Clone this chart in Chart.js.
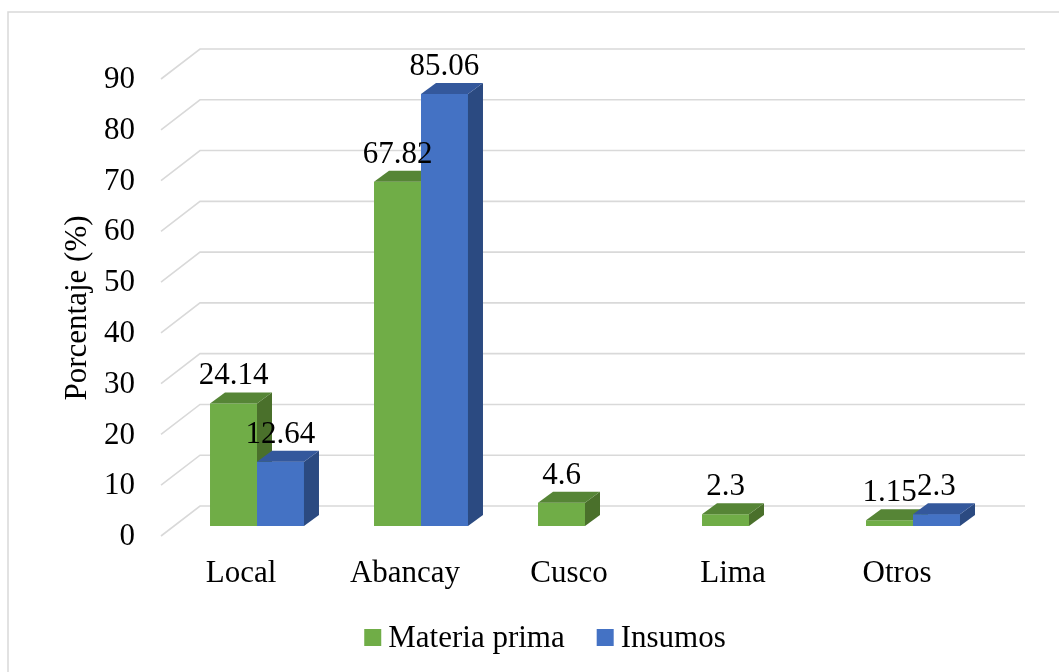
<!DOCTYPE html>
<html>
<head>
<meta charset="utf-8">
<script src="https://cdn.jsdelivr.net/npm/chart.js@4.4.1/dist/chart.umd.min.js"></script>
<style>
  html, body { margin: 0; padding: 0; background: #ffffff; }
  #c { display: block; }
</style>
</head>
<body>
<canvas id="c" width="1059" height="672"></canvas>
<script>
const categories = ['Local', 'Abancay', 'Cusco', 'Lima', 'Otros'];
const materiaPrima = [24.14, 67.82, 4.6, 2.3, 1.15];
const insumos = [12.64, 85.06, null, null, 2.3];
const seriesNames = ['Materia prima', 'Insumos'];
const yTicks = [0, 10, 20, 30, 40, 50, 60, 70, 80, 90];
const yTitle = 'Porcentaje (%)';

const FONT = '"Liberation Serif", "Times New Roman", serif';
const FS = 31;
const DEPTH_DX = 15, DEPTH_DY = -11;      // bar depth
const WALL_DX = 25, WALL_DY = -20;        // back wall relative to bar plane
const FRONT_DX = -14, FRONT_DY = 10;      // floor front edge relative to bar plane
const faceColors = [
  { front: '#70AD47', top: '#568536', side: '#4A702B' },
  { front: '#4472C4', top: '#34589C', side: '#2B4A81' }
];

function poly(ctx, pts, color) {
  ctx.beginPath();
  ctx.moveTo(pts[0][0], pts[0][1]);
  for (let i = 1; i < pts.length; i++) ctx.lineTo(pts[i][0], pts[i][1]);
  ctx.closePath();
  ctx.fillStyle = color;
  ctx.fill();
}

const threeD = {
  id: 'threeD',
  beforeDatasetsDraw(chart) {
    const ctx = chart.ctx, ys = chart.scales.y, ca = chart.chartArea;
    ctx.save();
    ctx.strokeStyle = '#D9D9D9';
    ctx.lineWidth = 1.6;
    yTicks.forEach(v => {
      const y = ys.getPixelForValue(v);
      ctx.beginPath();
      ctx.moveTo(ca.left + FRONT_DX, y + FRONT_DY);
      ctx.lineTo(ca.left + WALL_DX, y + WALL_DY);
      ctx.lineTo(ca.right + WALL_DX + 5, y + WALL_DY);
      ctx.stroke();
    });
    ctx.restore();
  },
  afterDatasetsDraw(chart) {
    const ctx = chart.ctx;
    ctx.save();
    // 3D faces, left series first; the right series' front faces are redrawn over
    chart.data.datasets.forEach((ds, di) => {
      const meta = chart.getDatasetMeta(di);
      const col = faceColors[di];
      meta.data.forEach((bar, i) => {
        const v = ds.data[i];
        if (v === null || v === undefined) return;
        if (di > 0) bar.draw(ctx);
        const p = bar.getProps(['x', 'y', 'base', 'width'], true);
        const l = p.x - p.width / 2, r = p.x + p.width / 2;
        poly(ctx, [[r, p.y], [r + DEPTH_DX, p.y + DEPTH_DY], [r + DEPTH_DX, p.base + DEPTH_DY], [r, p.base]], col.side);
        poly(ctx, [[l, p.y], [r, p.y], [r + DEPTH_DX, p.y + DEPTH_DY], [l + DEPTH_DX, p.y + DEPTH_DY]], col.top);
      });
    });
    // value labels
    ctx.font = FS + 'px ' + FONT;
    ctx.fillStyle = '#000000';
    ctx.textAlign = 'center';
    ctx.textBaseline = 'alphabetic';
    chart.data.datasets.forEach((ds, di) => {
      const meta = chart.getDatasetMeta(di);
      meta.data.forEach((bar, i) => {
        const v = ds.data[i];
        if (v === null || v === undefined) return;
        const p = bar.getProps(['x', 'y'], true);
        ctx.fillText(String(v), p.x, p.y - 19);
      });
    });
    ctx.restore();
  },
  afterDraw(chart) {
    const ctx = chart.ctx;
    ctx.save();
    // outer border
    ctx.strokeStyle = '#D9D9D9';
    ctx.lineWidth = 1.5;
    ctx.strokeRect(8, 12, 1200, 1000);
    // y axis title
    ctx.font = FS + 'px ' + FONT;
    ctx.fillStyle = '#000000';
    ctx.translate(78, 308);
    ctx.rotate(-Math.PI / 2);
    ctx.textAlign = 'center';
    ctx.textBaseline = 'middle';
    ctx.fillText(yTitle, 0, 0);
    ctx.restore();
    // legend
    ctx.save();
    ctx.font = FS + 'px ' + FONT;
    ctx.textBaseline = 'alphabetic';
    ctx.textAlign = 'left';
    const box = 17, gapT = 7, gapI = 32;
    const widths = seriesNames.map(n => ctx.measureText(n).width);
    const total = widths.reduce((a, w) => a + box + gapT + w, 0) + gapI * (seriesNames.length - 1);
    let x = 545 - total / 2;
    seriesNames.forEach((n, i) => {
      ctx.fillStyle = faceColors[i].front;
      ctx.fillRect(x, 629, box, box);
      ctx.fillStyle = '#000000';
      ctx.fillText(n, x + box + gapT, 647);
      x += box + gapT + widths[i] + gapI;
    });
    ctx.restore();
  }
};

function build() {
  new Chart(document.getElementById('c'), {
    type: 'bar',
    data: {
      labels: categories,
      datasets: [
        { label: seriesNames[0], data: materiaPrima, backgroundColor: faceColors[0].front,
          borderWidth: 0, barPercentage: 1, categoryPercentage: 0.573 },
        { label: seriesNames[1], data: insumos, backgroundColor: faceColors[1].front,
          borderWidth: 0, barPercentage: 1, categoryPercentage: 0.573 }
      ]
    },
    options: {
      responsive: false,
      devicePixelRatio: 1,
      animation: false,
      layout: { padding: { left: 0, top: 69, right: 64, bottom: 0 } },
      plugins: { legend: { display: false }, tooltip: { enabled: false } },
      scales: {
        x: {
          grid: { display: false, drawTicks: false },
          border: { display: false },
          ticks: { font: { family: FONT, size: FS }, color: '#000000', padding: 29, labelOffset: -16, maxRotation: 0 },
          afterFit(s) { s.height = 146; }
        },
        y: {
          min: 0, max: 90,
          grid: { display: false, drawTicks: false },
          border: { display: false },
          ticks: { stepSize: 10, font: { family: FONT, size: FS }, color: '#000000', padding: 40, labelOffset: 11 },
          afterFit(s) { s.width = 175; }
        }
      }
    },
    plugins: [threeD]
  });
}

if (document.fonts && document.fonts.load) {
  document.fonts.load(FS + 'px "Liberation Serif"').then(build, build);
} else {
  build();
}
</script>
</body>
</html>
